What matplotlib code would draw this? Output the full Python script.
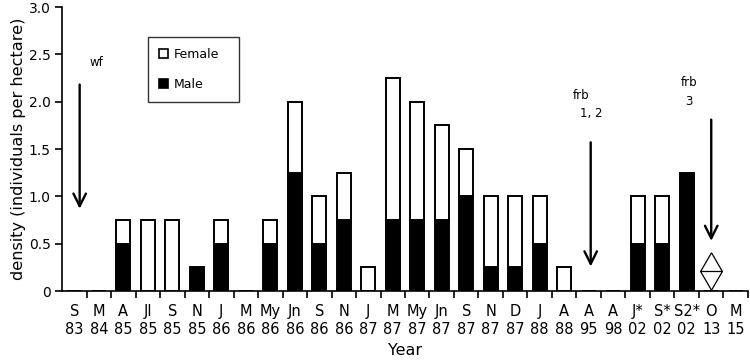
import matplotlib
matplotlib.use("Agg")
import matplotlib.pyplot as plt
import numpy as np
from matplotlib.patches import Patch
from matplotlib.path import Path

plt.rcParams['font.family'] = ['DejaVu Sans']

months = ["S", "M", "A", "Jl", "S", "N", "J", "M", "My", "Jn", "S", "N", "J", "M",
          "My", "Jn", "S", "N", "D", "J", "A", "A", "A", "J*", "S*", "S2*", "O", "M"]
years = ["83", "84", "85", "85", "85", "85", "86", "86", "86", "86", "86", "86", "87", "87",
         "87", "87", "87", "87", "87", "88", "88", "95", "98", "02", "02", "02", "13", "15"]
male = [0, 0, 0.5, 0, 0, 0.25, 0.5, 0, 0.5, 1.25, 0.5, 0.75, 0, 0.75,
        0.75, 0.75, 1.0, 0.25, 0.25, 0.5, 0, 0, 0, 0.5, 0.5, 1.25, 0, 0]
female = [0, 0, 0.25, 0.75, 0.75, 0, 0.25, 0, 0.25, 0.75, 0.5, 0.5, 0.25, 1.5,
          1.25, 1.0, 0.5, 0.75, 0.75, 0.5, 0.25, 0, 0, 0.5, 0.5, 0, 0, 0]
diamond_index = 26
diamond_value = 0.21

fig = plt.figure(figsize=(7.5, 3.63), dpi=100)
ax = fig.add_axes([0.0827, 0.1983, 0.9146, 0.7824])

x = np.arange(len(months))
w = 0.58
m = np.array(male)
f = np.array(female)
ax.bar(x, m, width=w, color='black', edgecolor='black', linewidth=1.4, zorder=3)
ax.bar(x[f > 0], f[f > 0], bottom=m[f > 0], width=w, color='white',
       edgecolor='black', linewidth=1.4, zorder=3)

# diamond marker with horizontal line
verts = [(0, 1), (0.58, 0), (0, -1), (-0.58, 0), (0, 1), (-0.58, 0), (0.58, 0)]
codes = [Path.MOVETO, Path.LINETO, Path.LINETO, Path.LINETO, Path.LINETO,
         Path.MOVETO, Path.LINETO]
dpath = Path(verts, codes)
ax.plot([diamond_index], [diamond_value], marker=dpath, markersize=27,
        markerfacecolor='white', markeredgecolor='black', markeredgewidth=0.9,
        linestyle='none', zorder=4)

# arrows
arrow_kw = dict(arrowstyle='->,head_length=0.9,head_width=0.45', color='black', lw=1.7)
ax.annotate('', xy=(0.22, 0.84), xytext=(0.22, 2.21), arrowprops=arrow_kw)
ax.text(0.92, 2.41, 'wf', ha='center', va='center', fontsize=8.5)
ax.annotate('', xy=(21.08, 0.23), xytext=(21.08, 1.60), arrowprops=arrow_kw)
ax.text(20.7, 2.06, 'frb', ha='center', va='center', fontsize=8.5)
ax.text(21.1, 1.87, '1, 2', ha='center', va='center', fontsize=8.5)
ax.annotate('', xy=(26.0, 0.50), xytext=(26.0, 1.84), arrowprops=arrow_kw)
ax.text(25.1, 2.20, 'frb', ha='center', va='center', fontsize=8.5)
ax.text(25.1, 2.00, '3', ha='center', va='center', fontsize=8.5)

ax.set_xlim(-0.5, len(months) - 0.5)
ax.set_ylim(0, 3.0)

ax.set_xticks(x)
ax.set_xticklabels([f"{a}\n{b}" for a, b in zip(months, years)], fontsize=10.5,
                   linespacing=1.3)
ax.set_xticks(np.arange(0.5, len(months) + 0.5, 1.0), minor=True)
ax.tick_params(axis='x', which='major', length=0, pad=9)
ax.tick_params(axis='x', which='minor', length=5, width=1.2, direction='out')
ax.set_yticks([0, 0.5, 1.0, 1.5, 2.0, 2.5, 3.0])
ax.set_yticklabels(["0", "0.5", "1.0", "1.5", "2.0", "2.5", "3.0"], fontsize=10)
ax.tick_params(axis='y', length=5, width=1.2, direction='out', pad=3)

for s in ['top', 'right']:
    ax.spines[s].set_visible(False)
for s in ['left', 'bottom']:
    ax.spines[s].set_linewidth(1.2)

ax.set_xlabel('Year', fontsize=11.5, labelpad=4)
ax.set_ylabel('density (individuals per hectare)', fontsize=11.6, labelpad=2)

handles = [Patch(facecolor='white', edgecolor='black', linewidth=1.2, label='Female'),
           Patch(facecolor='black', edgecolor='black', linewidth=1.2, label='Male')]
leg = ax.legend(handles=handles, loc='upper left',
                bbox_to_anchor=(0.125, 0.685, 0.1327, 0.211), mode='expand',
                fontsize=9, frameon=True, fancybox=False, handlelength=0.75,
                handleheight=0.75, handletextpad=0.4, labelspacing=1.35,
                borderpad=0.9, borderaxespad=0)
leg.get_frame().set_edgecolor('black')
leg.get_frame().set_linewidth(1.0)

fig.savefig('out.png', dpi=100)
